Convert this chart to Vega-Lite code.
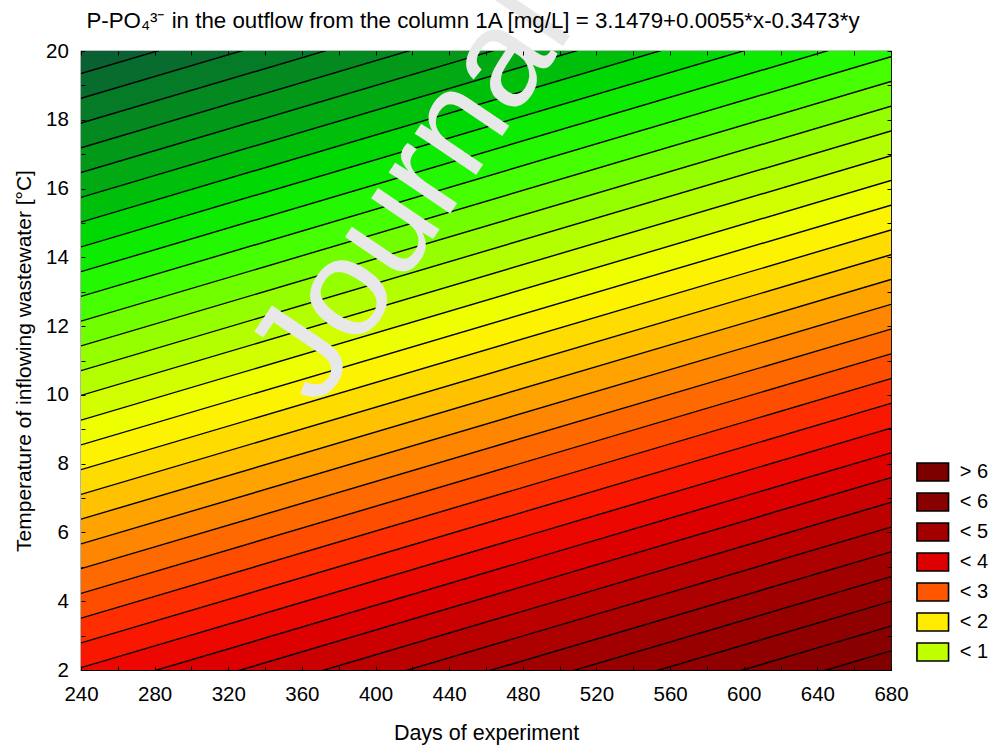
{
  "$schema": "https://vega.github.io/schema/vega-lite/v6.json",
  "width": 810,
  "height": 619,
  "autosize": {"type": "none"},
  "padding": {"left": 81, "top": 51, "right": 101, "bottom": 77},
  "background": "#ffffff",
  "datasets": {
    "bands": [
      {"z": -2.375, "x": 240, "lo": 19.3433, "hi": 20.0631}, {"z": -2.375, "x": 680, "lo": 26.3113, "hi": 27.0311},
      {"z": -2.125, "x": 240, "lo": 18.6234, "hi": 19.3433}, {"z": -2.125, "x": 680, "lo": 25.5914, "hi": 26.3113},
      {"z": -1.875, "x": 240, "lo": 17.9036, "hi": 18.6234}, {"z": -1.875, "x": 680, "lo": 24.8716, "hi": 25.5914},
      {"z": -1.625, "x": 240, "lo": 17.1837, "hi": 17.9036}, {"z": -1.625, "x": 680, "lo": 24.1517, "hi": 24.8716},
      {"z": -1.375, "x": 240, "lo": 16.4639, "hi": 17.1837}, {"z": -1.375, "x": 680, "lo": 23.4319, "hi": 24.1517},
      {"z": -1.125, "x": 240, "lo": 15.7441, "hi": 16.4639}, {"z": -1.125, "x": 680, "lo": 22.7121, "hi": 23.4319},
      {"z": -0.875, "x": 240, "lo": 15.0242, "hi": 15.7441}, {"z": -0.875, "x": 680, "lo": 21.9922, "hi": 22.7121},
      {"z": -0.625, "x": 240, "lo": 14.3044, "hi": 15.0242}, {"z": -0.625, "x": 680, "lo": 21.2724, "hi": 21.9922},
      {"z": -0.375, "x": 240, "lo": 13.5845, "hi": 14.3044}, {"z": -0.375, "x": 680, "lo": 20.5525, "hi": 21.2724},
      {"z": -0.125, "x": 240, "lo": 12.8647, "hi": 13.5845}, {"z": -0.125, "x": 680, "lo": 19.8327, "hi": 20.5525},
      {"z": 0.125, "x": 240, "lo": 12.1449, "hi": 12.8647}, {"z": 0.125, "x": 680, "lo": 19.1129, "hi": 19.8327},
      {"z": 0.375, "x": 240, "lo": 11.4250, "hi": 12.1449}, {"z": 0.375, "x": 680, "lo": 18.3930, "hi": 19.1129},
      {"z": 0.625, "x": 240, "lo": 10.7052, "hi": 11.4250}, {"z": 0.625, "x": 680, "lo": 17.6732, "hi": 18.3930},
      {"z": 0.875, "x": 240, "lo": 9.9853, "hi": 10.7052}, {"z": 0.875, "x": 680, "lo": 16.9533, "hi": 17.6732},
      {"z": 1.125, "x": 240, "lo": 9.2655, "hi": 9.9853}, {"z": 1.125, "x": 680, "lo": 16.2335, "hi": 16.9533},
      {"z": 1.375, "x": 240, "lo": 8.5457, "hi": 9.2655}, {"z": 1.375, "x": 680, "lo": 15.5137, "hi": 16.2335},
      {"z": 1.625, "x": 240, "lo": 7.8258, "hi": 8.5457}, {"z": 1.625, "x": 680, "lo": 14.7938, "hi": 15.5137},
      {"z": 1.875, "x": 240, "lo": 7.1060, "hi": 7.8258}, {"z": 1.875, "x": 680, "lo": 14.0740, "hi": 14.7938},
      {"z": 2.125, "x": 240, "lo": 6.3861, "hi": 7.1060}, {"z": 2.125, "x": 680, "lo": 13.3541, "hi": 14.0740},
      {"z": 2.375, "x": 240, "lo": 5.6663, "hi": 6.3861}, {"z": 2.375, "x": 680, "lo": 12.6343, "hi": 13.3541},
      {"z": 2.625, "x": 240, "lo": 4.9465, "hi": 5.6663}, {"z": 2.625, "x": 680, "lo": 11.9145, "hi": 12.6343},
      {"z": 2.875, "x": 240, "lo": 4.2266, "hi": 4.9465}, {"z": 2.875, "x": 680, "lo": 11.1946, "hi": 11.9145},
      {"z": 3.125, "x": 240, "lo": 3.5068, "hi": 4.2266}, {"z": 3.125, "x": 680, "lo": 10.4748, "hi": 11.1946},
      {"z": 3.375, "x": 240, "lo": 2.7869, "hi": 3.5068}, {"z": 3.375, "x": 680, "lo": 9.7549, "hi": 10.4748},
      {"z": 3.625, "x": 240, "lo": 2.0671, "hi": 2.7869}, {"z": 3.625, "x": 680, "lo": 9.0351, "hi": 9.7549},
      {"z": 3.875, "x": 240, "lo": 1.3473, "hi": 2.0671}, {"z": 3.875, "x": 680, "lo": 8.3153, "hi": 9.0351},
      {"z": 4.125, "x": 240, "lo": 0.6274, "hi": 1.3473}, {"z": 4.125, "x": 680, "lo": 7.5954, "hi": 8.3153},
      {"z": 4.375, "x": 240, "lo": -0.0924, "hi": 0.6274}, {"z": 4.375, "x": 680, "lo": 6.8756, "hi": 7.5954},
      {"z": 4.625, "x": 240, "lo": -0.8123, "hi": -0.0924}, {"z": 4.625, "x": 680, "lo": 6.1557, "hi": 6.8756},
      {"z": 4.875, "x": 240, "lo": -1.5321, "hi": -0.8123}, {"z": 4.875, "x": 680, "lo": 5.4359, "hi": 6.1557},
      {"z": 5.125, "x": 240, "lo": -2.2519, "hi": -1.5321}, {"z": 5.125, "x": 680, "lo": 4.7161, "hi": 5.4359},
      {"z": 5.375, "x": 240, "lo": -2.9718, "hi": -2.2519}, {"z": 5.375, "x": 680, "lo": 3.9962, "hi": 4.7161},
      {"z": 5.625, "x": 240, "lo": -3.6916, "hi": -2.9718}, {"z": 5.625, "x": 680, "lo": 3.2764, "hi": 3.9962},
      {"z": 5.875, "x": 240, "lo": -4.4115, "hi": -3.6916}, {"z": 5.875, "x": 680, "lo": 2.5565, "hi": 3.2764},
      {"z": 6.125, "x": 240, "lo": -5.1313, "hi": -4.4115}, {"z": 6.125, "x": 680, "lo": 1.8367, "hi": 2.5565}
    ],
    "legendItems": [
      {"lab": "> 6"}, {"lab": "< 6"}, {"lab": "< 5"}, {"lab": "< 4"}, {"lab": "< 3"}, {"lab": "< 2"}, {"lab": "< 1"}
    ],
    "watermark": [
      {"t": "Journal", "x": 369, "y": 9.6}
    ]
  },
  "layer": [
    {
      "data": {"name": "bands"},
      "mark": {"type": "area", "clip": true, "strokeWidth": 0},
      "encoding": {
        "x": {
          "field": "x", "type": "quantitative",
          "scale": {"domain": [240, 680], "nice": false, "zero": false},
          "axis": {
            "orient": "bottom",
            "zindex": 1,
            "values": [240, 260, 280, 300, 320, 340, 360, 380, 400, 420, 440, 460, 480, 500, 520, 540, 560, 580, 600, 620, 640, 660, 680],
            "labelExpr": "datum.value % 40 == 0 ? datum.label : ''",
            "format": "d",
            "labelFlush": false,
            "labelOverlap": false,
            "labelPadding": 18.5,
            "title": "Days of experiment",
            "titlePadding": 17,
            "titleFontSize": 21.5
          }
        },
        "y": {
          "field": "lo", "type": "quantitative",
          "scale": {"domain": [2, 20], "nice": false, "zero": false},
          "axis": {
            "orient": "left",
            "zindex": 1,
            "values": [2, 3, 4, 5, 6, 7, 8, 9, 10, 11, 12, 13, 14, 15, 16, 17, 18, 19, 20],
            "labelExpr": "datum.value % 2 == 0 ? datum.label : ''",
            "format": "d",
            "labelFlush": false,
            "labelOverlap": false,
            "labelPadding": 16.7,
            "title": "Temperature of inflowing wastewater [°C]",
            "titlePadding": 11,
            "titleFontSize": 21
          }
        },
        "y2": {"field": "hi"},
        "detail": {"field": "z", "type": "nominal"},
        "color": {
          "field": "z", "type": "quantitative", "legend": null,
          "scale": {
            "domain": [-2.5, -2, -1.5, -1, -0.5, 0, 0.5, 1, 1.5, 2, 2.5, 3, 3.5, 4, 4.5, 5, 5.5, 6, 6.25],
            "range": ["#0a5a36", "#06722a", "#03901c", "#00b20e", "#00e400", "#30ff00", "#86ff00", "#c2ff00", "#fcff00", "#ffd000", "#ff9400", "#ff5c00", "#ff1e00", "#e60000", "#c20000", "#a60000", "#930000", "#850000", "#7a0000"],
            "interpolate": "rgb"
          }
        }
      }
    },
    {
      "data": {"name": "bands"},
      "mark": {"type": "line", "clip": true, "color": "#000000", "strokeWidth": 1.4},
      "encoding": {
        "x": {
          "field": "x", "type": "quantitative",
          "axis": {
            "orient": "top",
            "zindex": 1,
            "values": [240, 260, 280, 300, 320, 340, 360, 380, 400, 420, 440, 460, 480, 500, 520, 540, 560, 580, 600, 620, 640, 660, 680],
            "labels": false,
            "title": "P-PO₄³⁻ in the outflow from the column 1A [mg/L] = 3.1479+0.0055*x-0.3473*y",
            "titleFontSize": 22.3,
            "titleX": 391.5,
            "titleAlign": "center",
            "titleBaseline": "alphabetic",
            "titlePadding": 23
          }
        },
        "y": {
          "field": "hi", "type": "quantitative",
          "axis": {
            "orient": "right",
            "zindex": 1,
            "values": [2, 3, 4, 5, 6, 7, 8, 9, 10, 11, 12, 13, 14, 15, 16, 17, 18, 19, 20],
            "labels": false,
            "title": null
          }
        },
        "detail": {"field": "z", "type": "nominal"}
      }
    },
    {
      "data": {"name": "watermark"},
      "mark": {"type": "text", "angle": -56, "align": "left", "baseline": "alphabetic", "fontSize": 140, "font": "Liberation Sans", "color": "#e8e8e8"},
      "encoding": {
        "x": {"field": "x", "type": "quantitative", "axis": null},
        "y": {"field": "y", "type": "quantitative", "axis": null},
        "text": {"field": "t"}
      }
    },
    {
      "data": {"name": "legendItems"},
      "mark": {"type": "point", "filled": true, "opacity": 0},
      "encoding": {
        "color": {
          "field": "lab", "type": "nominal",
          "scale": {
            "domain": ["> 6", "< 6", "< 5", "< 4", "< 3", "< 2", "< 1"],
            "range": ["#7c0000", "#880000", "#a20000", "#de0000", "#ff5600", "#ffec00", "#bfff00"]
          },
          "legend": {
            "title": null,
            "orient": "none",
            "legendX": 840.75,
            "legendY": 410,
            "symbolType": "M-1.58,-0.9H1.58V0.9H-1.58Z",
            "symbolSize": 400,
            "symbolStrokeColor": "#000000",
            "symbolStrokeWidth": 1.6,
            "symbolOpacity": 1,
            "labelFontSize": 20,
            "labelFont": "Liberation Sans",
            "labelColor": "#000000",
            "labelOffset": 16,
            "rowPadding": 4,
            "labelLimit": 0,
            "encode": {
              "symbols": {"update": {"stroke": {"value": "#000000"}, "strokeWidth": {"value": 1.6}, "opacity": {"value": 1}, "fillOpacity": {"value": 1}}}
            }
          }
        }
      }
    }
  ],
  "resolve": {
    "scale": {"color": "independent"},
    "axis": {"x": "independent", "y": "independent"}
  },
  "config": {
    "font": "Liberation Sans",
    "view": {"stroke": "#000000", "strokeWidth": 1.2},
    "axis": {
      "grid": false,
      "domain": false,
      "ticks": true,
      "tickSize": -4,
      "tickColor": "#000000",
      "tickWidth": 1,
      "labelFontSize": 20.5,
      "labelColor": "#000000",
      "labelFont": "Liberation Sans",
      "titleFontSize": 21.5,
      "titleFontWeight": "normal",
      "titleColor": "#000000",
      "titleFont": "Liberation Sans"
    }
  }
}
